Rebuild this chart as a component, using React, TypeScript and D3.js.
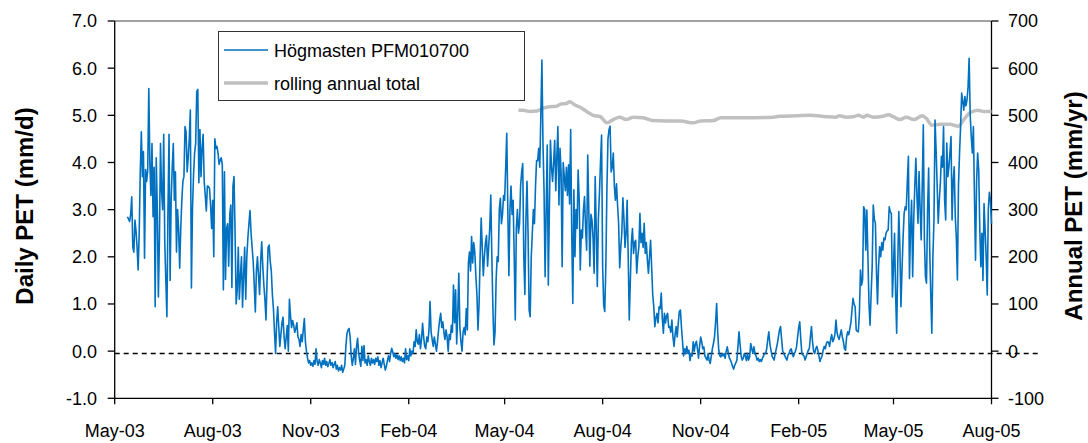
import React from "react";
import * as d3 from "d3";

// Daily potential evapotranspiration (mm/d), one array per calendar month
const may2003 = [2.85, 2.80, 2.75, 2.90, 3.27, 2.20, 2.10, 2.78, 2.55, 2.20, 1.72, 2.50, 3.80, 4.65, 3.70, 4.23, 1.97, 3.85, 3.60];
const jun2003 = [3.84, 5.57, 4.00, 3.30, 4.40, 2.85, 3.90, 0.94, 4.10, 3.00, 1.15, 2.40, 4.40, 3.40, 3.00, 4.60, 2.30, 1.50, 0.73, 3.00, 4.60, 1.50, 3.20, 3.90, 4.40, 3.20, 3.80, 2.10, 3.00, 2.60];
const jul2003 = [1.76, 2.60, 3.20, 3.60, 3.70, 4.76, 4.65, 3.80, 4.10, 4.50, 5.11, 1.34, 3.00, 3.74, 4.20, 4.40, 5.50, 5.55, 3.57, 4.70, 3.70, 4.30, 4.60, 3.60, 3.30, 2.97, 3.50, 3.49, 3.45, 3.10, 2.60];
const aug2003 = [3.20, 2.00, 4.50, 4.30, 4.34, 4.20, 3.96, 4.05, 4.10, 3.95, 1.30, 3.80, 1.52, 2.60, 2.70, 1.80, 2.90, 3.10, 1.35, 3.50, 3.70, 2.50, 1.00, 1.30, 2.20, 1.10, 1.60, 2.00, 0.93, 1.60, 2.20];
const sep2003 = [1.10, 2.00, 2.40, 2.70, 2.98, 2.50, 2.20, 1.90, 1.40, 0.83, 1.70, 2.00, 1.60, 1.20, 1.90, 2.32, 1.80, 1.40, 1.10, 0.66, 1.50, 2.20, 2.25, 1.90, 1.70, 1.20, 0.90, 0.40, -0.05, 0.60];
const oct2003 = [0.94, 0.50, 0.10, 0.35, 0.60, 0.72, 0.30, 0.05, 0.30, 0.54, 0.00, 1.10, 0.75, 0.50, 0.65, 0.55, 0.40, 0.48, 0.60, 0.30, 0.25, 0.10, 0.35, 0.20, 0.45, 0.69, 0.20, 0.00, -0.15, -0.25, -0.20];
const nov2003 = [-0.30, -0.25, -0.32, -0.20, -0.28, 0.05, -0.22, -0.30, -0.18, -0.25, -0.35, -0.20, -0.28, -0.15, -0.30, -0.22, -0.33, -0.26, -0.18, -0.30, -0.24, -0.35, -0.28, -0.22, -0.38, -0.30, -0.42, -0.35, -0.40, -0.30];
const dec2003 = [-0.45, -0.38, -0.30, 0.10, 0.37, 0.45, 0.48, 0.30, -0.10, -0.30, -0.15, 0.05, -0.28, 0.10, 0.27, -0.05, -0.20, -0.32, 0.10, -0.20, 0.12, -0.25, -0.18, -0.30, -0.10, -0.22, -0.30, -0.15, -0.25, -0.18, -0.28];
const jan2004 = [-0.15, -0.22, -0.12, -0.30, -0.20, -0.35, -0.25, -0.15, -0.28, -0.40, -0.32, -0.20, -0.10, -0.22, -0.05, 0.06, -0.02, -0.12, -0.05, -0.15, -0.08, -0.18, -0.10, -0.20, -0.12, -0.22, -0.15, -0.25, 0.05, -0.18, -0.10];
const feb2004 = [-0.20, 0.05, -0.10, 0.00, -0.05, 0.20, 0.10, 0.45, 0.20, 0.15, 0.35, 0.05, 0.25, 0.59, 0.30, 0.10, 0.05, 0.30, 0.20, 0.45, 1.05, 0.40, 0.25, 0.10, 0.30, 0.15, 0.00, 0.20, 0.45];
const mar2004 = [0.66, 0.80, 0.50, 0.62, 0.40, 0.25, 0.45, 0.30, 0.00, 0.35, 0.25, 0.55, 0.40, 1.40, 0.60, 1.30, 0.15, 0.80, 1.65, 0.50, 0.20, 0.00, 0.40, 0.50, 0.35, 0.90, 0.45, 1.87, 2.10, 1.70, 2.43];
const apr2004 = [1.87, 2.30, 2.10, 1.60, 1.20, 0.45, 1.00, 2.00, 2.82, 2.20, 1.60, 2.00, 2.30, 2.45, 1.80, 2.20, 2.60, 3.31, 2.00, 0.90, 0.13, 0.40, 1.50, 2.00, 1.90, 3.00, 3.24, 2.70, 2.90, 3.30];
const may2004 = [3.20, 3.90, 4.62, 3.00, 1.60, 3.00, 3.50, 2.90, 3.20, 2.00, 0.66, 2.60, 3.00, 2.50, 2.70, 3.50, 3.80, 3.98, 2.00, 1.20, 2.80, 3.60, 2.50, 0.87, 0.73, 2.00, 2.50, 3.00, 2.70, 3.50, 4.04];
const jun2004 = [4.04, 4.30, 3.90, 5.00, 6.17, 4.40, 3.40, 1.58, 3.00, 4.37, 1.40, 3.00, 4.47, 3.90, 3.60, 4.00, 4.47, 3.40, 4.12, 4.76, 3.10, 4.30, 3.80, 1.79, 4.00, 3.70, 3.40, 3.90, 3.30, 3.95];
const jul2004 = [3.12, 4.70, 2.50, 1.01, 3.42, 2.00, 3.00, 2.60, 3.84, 3.20, 1.72, 2.57, 2.40, 3.00, 3.28, 2.60, 2.14, 4.16, 3.00, 1.80, 2.90, 2.78, 2.40, 1.65, 3.70, 2.60, 1.37, 2.80, 3.35, 4.00, 4.58];
const aug2004 = [1.80, 0.97, 0.84, 1.80, 3.42, 4.50, 4.70, 4.77, 3.80, 3.90, 4.20, 3.50, 3.20, 3.55, 3.10, 2.70, 1.77, 2.20, 2.50, 3.25, 2.80, 2.20, 2.50, 3.20, 2.00, 0.66, 1.50, 2.30, 2.60, 2.07, 2.30];
const sep2004 = [2.35, 1.65, 2.00, 2.21, 2.92, 2.30, 2.50, 2.20, 2.71, 2.07, 2.30, 1.93, 1.65, 2.00, 2.35, 1.79, 1.20, 0.94, 0.52, 0.70, 0.80, 0.60, 0.94, 0.90, 1.23, 0.70, 0.38, 0.80, 0.60, 0.75];
const oct2004 = [0.80, 0.50, 0.52, 0.40, 0.66, 0.30, 0.10, 0.35, 0.52, 0.30, 0.60, 0.84, 0.87, 0.50, 0.20, -0.10, 0.05, -0.05, 0.10, -0.05, 0.02, -0.20, -0.05, -0.10, 0.20, 0.00, 0.15, 0.21, 0.05, -0.15, 0.10];
const nov2004 = [0.30, 0.20, 0.05, 0.09, -0.10, -0.15, -0.19, -0.05, -0.20, -0.26, -0.10, 0.05, 0.16, 0.30, 0.60, 1.01, 0.40, 0.02, -0.10, -0.12, -0.05, -0.10, -0.05, -0.15, 0.00, 0.09, -0.05, -0.15, -0.19, -0.25];
const dec2004 = [-0.33, -0.38, -0.30, -0.25, -0.19, 0.10, 0.41, 0.15, -0.10, -0.19, -0.15, -0.05, -0.10, -0.20, -0.05, -0.19, -0.12, 0.16, 0.05, -0.05, 0.09, -0.05, -0.10, -0.19, -0.15, -0.22, -0.18, -0.22, -0.15, -0.10, -0.05];
const jan2005 = [-0.05, 0.05, 0.25, 0.41, 0.15, 0.02, -0.10, -0.15, -0.19, -0.05, 0.05, 0.16, 0.30, 0.45, 0.52, 0.25, 0.00, -0.05, -0.10, -0.15, -0.19, -0.08, -0.05, 0.02, 0.05, -0.05, -0.12, -0.05, 0.00, 0.09, 0.30];
const feb2005 = [0.50, 0.62, 0.25, -0.05, -0.08, -0.10, -0.19, -0.12, -0.05, 0.02, 0.05, 0.30, 0.52, 0.20, 0.00, -0.05, 0.05, 0.10, 0.02, -0.10, -0.22, -0.15, -0.10, 0.02, 0.10, 0.05, 0.16, 0.20];
const mar2005 = [0.19, 0.10, 0.25, 0.35, 0.20, 0.25, 0.35, 0.66, 0.40, 0.30, 0.25, 0.35, 0.45, 0.30, 0.20, 0.05, 0.02, 0.30, 0.41, 0.35, 0.47, 0.60, 0.85, 1.12, 1.00, 0.94, 0.45, 0.42, 0.41, 0.80, 1.72];
const apr2005 = [1.40, 1.51, 3.06, 3.00, 2.14, 2.99, 2.00, 1.00, 0.55, 1.20, 1.79, 3.10, 2.80, 2.71, 1.72, 1.00, 1.80, 2.21, 2.00, 2.30, 2.14, 2.40, 2.36, 2.50, 2.55, 2.57, 3.06, 2.95, 2.92, 1.15];
const may2005 = [1.80, 2.50, 1.20, 0.38, 1.86, 2.96, 2.20, 0.94, 1.72, 2.40, 2.92, 3.06, 3.00, 3.60, 4.13, 1.54, 2.60, 3.20, 1.58, 2.80, 3.49, 4.09, 3.30, 2.71, 3.81, 3.00, 2.36, 3.50, 4.80, 2.40, 1.58];
const jun2005 = [1.44, 3.00, 3.88, 2.14, 1.20, 0.38, 2.00, 2.78, 4.90, 4.27, 3.50, 2.71, 3.20, 3.56, 4.13, 3.90, 4.76, 3.20, 2.78, 4.41, 3.70, 3.90, 4.20, 4.55, 2.78, 3.60, 3.91, 2.85, 2.40, 1.51];
const jul2005 = [3.50, 4.20, 4.76, 5.47, 5.30, 5.11, 5.40, 5.20, 5.33, 5.60, 6.21, 5.00, 4.55, 4.20, 4.76, 3.27, 1.93, 3.60, 4.20, 3.84, 2.60, 1.79, 2.50, 1.50, 3.13, 2.57, 2.00, 1.19, 3.00, 3.37, 3.20];
const aug2005 = [2.70];

// First date of each monthly block
const dailyBlocks: [string, number[]][] = [
  ["2003-05-13", may2003], ["2003-06-01", jun2003], ["2003-07-01", jul2003], ["2003-08-01", aug2003],
  ["2003-09-01", sep2003], ["2003-10-01", oct2003], ["2003-11-01", nov2003], ["2003-12-01", dec2003],
  ["2004-01-01", jan2004], ["2004-02-01", feb2004], ["2004-03-01", mar2004], ["2004-04-01", apr2004],
  ["2004-05-01", may2004], ["2004-06-01", jun2004], ["2004-07-01", jul2004], ["2004-08-01", aug2004],
  ["2004-09-01", sep2004], ["2004-10-01", oct2004], ["2004-11-01", nov2004], ["2004-12-01", dec2004],
  ["2005-01-01", jan2005], ["2005-02-01", feb2005], ["2005-03-01", mar2005], ["2005-04-01", apr2005],
  ["2005-05-01", may2005], ["2005-06-01", jun2005], ["2005-07-01", jul2005], ["2005-08-01", aug2005],
];

// Rolling 365-day total (mm/yr)
const rollingDates = [
  "2004-05-14", "2004-05-18", "2004-05-25", "2004-05-31", "2004-06-06", "2004-06-12", "2004-06-18",
  "2004-06-23", "2004-06-28", "2004-07-01", "2004-07-06", "2004-07-11", "2004-07-17", "2004-07-23",
  "2004-07-30", "2004-08-05", "2004-08-11", "2004-08-17", "2004-08-23", "2004-08-30", "2004-09-08",
  "2004-09-17", "2004-09-30", "2004-10-13", "2004-10-25", "2004-11-01", "2004-11-13", "2004-11-20",
  "2004-12-14", "2005-01-08", "2005-01-14", "2005-01-30", "2005-02-12", "2005-02-27", "2005-03-08",
  "2005-03-11", "2005-03-18", "2005-03-24", "2005-03-29", "2005-04-03", "2005-04-06", "2005-04-12",
  "2005-04-21", "2005-04-26", "2005-05-01", "2005-05-07", "2005-05-13", "2005-05-20", "2005-05-28",
  "2005-06-01", "2005-06-06", "2005-06-14", "2005-06-23", "2005-07-01", "2005-07-06", "2005-07-11",
  "2005-07-19", "2005-07-25", "2005-08-01",
];
const rollingTotals = [
  511, 511, 508, 509, 515, 518, 519,
  524, 525, 529, 522, 517, 508, 500,
  497, 484, 491, 496, 491, 496, 495,
  489, 488, 488, 484, 488, 489, 495,
  495, 496, 498, 499, 500, 497, 496,
  499, 496, 497, 500, 496, 500, 496,
  498, 501, 497, 491, 496, 491, 499,
  493, 479, 481, 481, 477, 491, 504,
  511, 508, 508,
];

const dateTicks = [
  "2003-05-01", "2003-08-01", "2003-11-01", "2004-02-01", "2004-05-01",
  "2004-08-01", "2004-11-01", "2005-02-01", "2005-05-01", "2005-08-01",
];
const leftTicks = [-1, 0, 1, 2, 3, 4, 5, 6, 7];
const rightTicks = [-100, 0, 100, 200, 300, 400, 500, 600, 700];
const referenceLevel = -0.05;

const dailyLabel = "Högmasten PFM010700";
const rollingLabel = "rolling annual total";
const leftTitle = "Daily PET (mm/d)";
const rightTitle = "Annual PET (mm/yr)";

const W = 1088;
const H = 443;
const plot = { left: 114.7, right: 991.5, top: 21, bottom: 398.3 };
const FONT = "'Liberation Sans', Arial, Helvetica, sans-serif";
const BLUE = "#0070c0";
const GREY = "#c0c0c0";

const parse = d3.utcParse("%Y-%m-%d");

export default function App() {
  const x = d3
    .scaleUtc()
    .domain([parse("2003-05-01")!, parse("2005-08-01")!])
    .range([plot.left, plot.right]);
  const yL = d3.scaleLinear().domain([-1, 7]).range([plot.bottom, plot.top]);
  const yR = d3.scaleLinear().domain([-100, 700]).range([plot.bottom, plot.top]);
  const fmt = d3.utcFormat("%b-%y");

  const daily = dailyBlocks.flatMap(([start, vals]) => {
    const s = parse(start)!;
    return vals.map((v, i) => ({ date: d3.utcDay.offset(s, i), value: v }));
  });
  const rolling = rollingDates.map((d, i) => ({ date: parse(d)!, value: rollingTotals[i] }));

  const dailyPath = d3
    .line<{ date: Date; value: number }>()
    .x((d) => x(d.date))
    .y((d) => yL(d.value))(daily)!;
  const rollingPath = d3
    .line<{ date: Date; value: number }>()
    .x((d) => x(d.date))
    .y((d) => yR(d.value))
    .curve(d3.curveMonotoneX)(rolling)!;

  const refY = yL(referenceLevel);

  return (
    <svg
      width={W}
      height={H}
      style={{ position: "absolute", left: 0, top: 0, background: "#fff" }}
      fontFamily={FONT}
    >
      <rect x={0} y={0} width={W} height={H} fill="#fff" />

      {/* frame */}
      <line x1={plot.left} x2={plot.right} y1={plot.top} y2={plot.top} stroke="#444" strokeWidth={1} />
      <line x1={plot.left} x2={plot.right} y1={plot.bottom} y2={plot.bottom} stroke="#000" strokeWidth={1.3} />
      <line x1={plot.left} x2={plot.left} y1={plot.top} y2={plot.bottom} stroke="#000" strokeWidth={1.3} />
      <line x1={plot.right} x2={plot.right} y1={plot.top} y2={plot.bottom} stroke="#000" strokeWidth={1.3} />

      {/* left axis */}
      {leftTicks.map((t) => (
        <g key={"l" + t}>
          <line x1={plot.left - 7} x2={plot.left} y1={yL(t)} y2={yL(t)} stroke="#000" strokeWidth={1.3} />
          <text x={97} y={yL(t)} dy="0.36em" textAnchor="end" fontSize={18} fill="#000">
            {t.toFixed(1)}
          </text>
        </g>
      ))}

      {/* right axis */}
      {rightTicks.map((t) => (
        <g key={"r" + t}>
          <line x1={plot.right} x2={plot.right + 7} y1={yR(t)} y2={yR(t)} stroke="#000" strokeWidth={1.3} />
          <text x={1008} y={yR(t)} dy="0.36em" textAnchor="start" fontSize={18} fill="#000">
            {String(t)}
          </text>
        </g>
      ))}

      {/* date axis */}
      {dateTicks.map((d) => {
        const dt = parse(d)!;
        return (
          <g key={d}>
            <line x1={x(dt)} x2={x(dt)} y1={plot.bottom} y2={plot.bottom + 6} stroke="#000" strokeWidth={1.3} />
            <text x={x(dt)} y={437} textAnchor="middle" fontSize={18} fill="#000">
              {fmt(dt)}
            </text>
          </g>
        );
      })}

      {/* axis titles */}
      <text
        transform={`translate(33,206) rotate(-90)`}
        textAnchor="middle"
        fontSize={24}
        fontWeight="bold"
        fill="#000"
      >
        {leftTitle}
      </text>
      <text
        transform={`translate(1082,206) rotate(-90)`}
        textAnchor="middle"
        fontSize={24}
        fontWeight="bold"
        fill="#000"
      >
        {rightTitle}
      </text>

      {/* reference line */}
      <line
        x1={plot.left}
        x2={1038}
        y1={refY}
        y2={refY}
        stroke="#000"
        strokeWidth={1.3}
        strokeDasharray="5,4"
      />

      {/* series */}
      <path d={rollingPath} fill="none" stroke={GREY} strokeWidth={3.5} strokeLinejoin="round" />
      <path d={dailyPath} fill="none" stroke={BLUE} strokeWidth={1.6} strokeLinejoin="round" />

      {/* legend */}
      <rect x={218.5} y={31.5} width={306} height={69} fill="#fff" stroke="#333" strokeWidth={1} />
      <line x1={224} x2={268} y1={50} y2={50} stroke={BLUE} strokeWidth={1.6} />
      <text x={274} y={57} fontSize={18} fill="#000">
        {dailyLabel}
      </text>
      <line x1={224} x2={268} y1={83} y2={83} stroke={GREY} strokeWidth={3.5} />
      <text x={274} y={90} fontSize={18} fill="#000">
        {rollingLabel}
      </text>
    </svg>
  );
}
